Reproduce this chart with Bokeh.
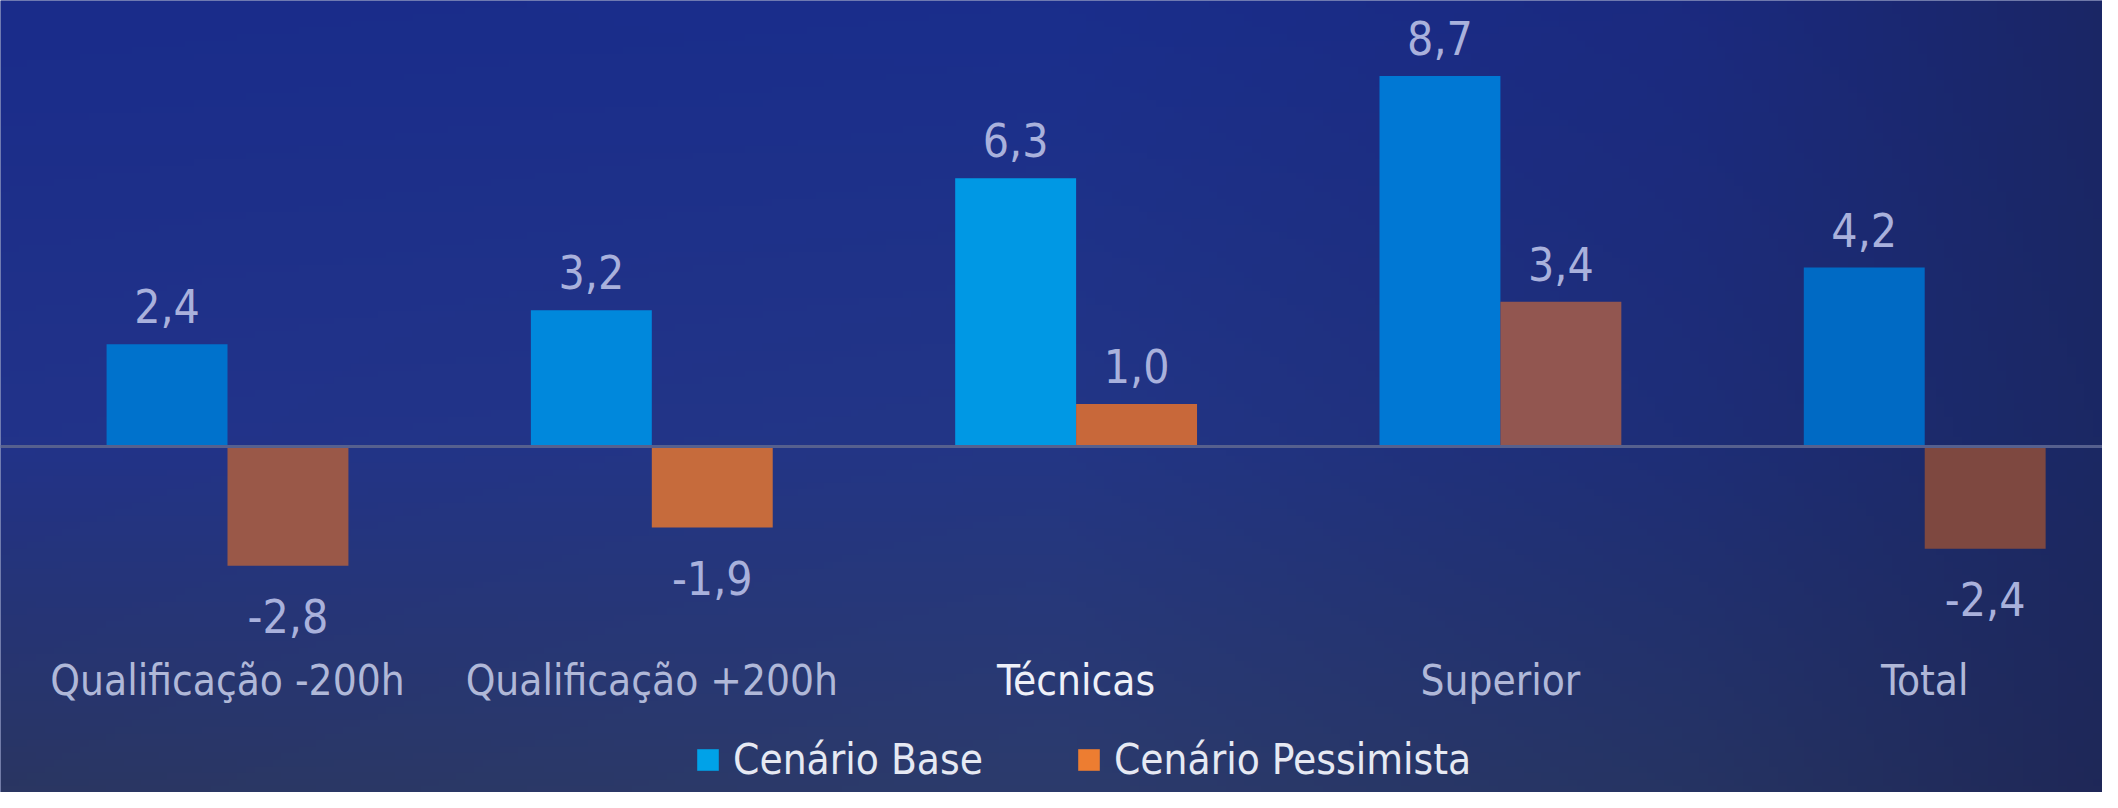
import numpy as np
from bokeh.plotting import figure
from bokeh.models import Range1d, FixedTicker, LinearAxis, Legend, LegendItem, ColumnDataSource
from bokeh.core.properties import value
from bokeh.embed import file_html
from bokeh.resources import INLINE

# ---------------- data ----------------
categories = ["Qualificação -200h", "Qualificação +200h", "Técnicas", "Superior", "Total"]
base = [2.4, 3.2, 6.3, 8.7, 4.2]
pessimista = [-2.8, -1.9, 1.0, 3.4, -2.4]
series_names = ["Cenário Base", "Cenário Pessimista"]

# ---------------- style ----------------
W, H = 2102, 792
FONT = "Liberation Sans Narrow, DejaVu Sans Condensed, sans-serif"
BG = "#1b2d80"
base_colors = ["#0072cc", "#0088dc", "#0098e4", "#0078d4", "#006ac4"]
pess_colors = ["#9a5848", "#c66b3c", "#c8683a", "#925650", "#7e4840"]
legend_colors = ["#00a2e8", "#ed7d31"]
LABEL_COLOR = "#a9b1dc"
CAT_COLOR = "#b0b8d8"
BAR_W = 0.285
X0, X1 = -0.535, 4.419
Y0, Y1 = -8.12, 10.47

def fmt(v):
    return f"{v:.1f}".replace(".", ",")

idx = list(range(len(categories)))

p = figure(width=W, height=H, x_range=Range1d(X0, X1), y_range=Range1d(Y0, Y1),
           output_backend="svg", toolbar_location=None, min_border=0,
           x_axis_type=None, y_axis_type=None)
p.outline_line_color = None
p.background_fill_color = BG
p.border_fill_color = BG

# background gradient
def hex2rgb(h):
    return np.array([int(h[i:i + 2], 16) for i in (1, 3, 5)], dtype=float)

nx, ny = 240, 120
xs = np.linspace(0, 1, nx)
rows = {
    0.0: (["#2a3662", "#2c3b6c", "#263463", "#1f2858"], [0, 0.5, 0.8, 1]),   # bottom
    0.45: (["#22338a", "#233686", "#1e2e78", "#1b2864"], [0, 0.5, 0.8, 1]),
    1.0: (["#1a2c8a", "#1a2e8c", "#1b2a80", "#1a2666"], [0, 0.5, 0.8, 1]),   # top
}
row_vals = {}
for v, (cols, stops) in rows.items():
    c = np.array([hex2rgb(h) for h in cols])
    row_vals[v] = np.stack([np.interp(xs, stops, c[:, k]) for k in range(3)], axis=-1)
vs = np.linspace(0, 1, ny)
keys = sorted(row_vals)
img = np.zeros((ny, nx, 3))
for j, v in enumerate(vs):
    for a, b in zip(keys[:-1], keys[1:]):
        if a <= v <= b:
            t = (v - a) / (b - a)
            img[j] = row_vals[a] * (1 - t) + row_vals[b] * t
            break
rgba = np.zeros((ny, nx), dtype=np.uint32)
view = rgba.view(dtype=np.uint8).reshape((ny, nx, 4))
view[:, :, 0:3] = img.astype(np.uint8)
view[:, :, 3] = 255
p.image_rgba(image=[rgba], x=X0, y=Y0, dw=X1 - X0, dh=Y1 - Y0)

# bars
src_b = ColumnDataSource(dict(x=[i - BAR_W / 2 for i in idx], top=base, color=base_colors))
src_p = ColumnDataSource(dict(x=[i + BAR_W / 2 for i in idx], top=pessimista, color=pess_colors))
p.vbar(x="x", top="top", bottom=0, width=BAR_W, fill_color="color", line_color=None, source=src_b)
p.vbar(x="x", top="top", bottom=0, width=BAR_W, fill_color="color", line_color=None, source=src_p)

# legend proxies (hidden, same data, legend colours)
r1 = p.vbar(x="x", top="top", bottom=0, width=BAR_W, fill_color=legend_colors[0],
            line_color=None, source=src_b, visible=False)
r2 = p.vbar(x="x", top="top", bottom=0, width=BAR_W, fill_color=legend_colors[1],
            line_color=None, source=src_p, visible=False)

# value labels
pos_x, pos_y, pos_t, neg_x, neg_y, neg_t = [], [], [], [], [], []
for src in (src_b, src_p):
    for x, v in zip(src.data["x"], src.data["top"]):
        if v >= 0:
            pos_x.append(x); pos_y.append(v); pos_t.append(fmt(v))
        else:
            neg_x.append(x); neg_y.append(v); neg_t.append(fmt(v))
p.text(x=pos_x, y=pos_y, text=pos_t, text_align="center", text_baseline="alphabetic",
       y_offset=-38, text_font=value(FONT), text_font_size="46px", text_color=LABEL_COLOR)
p.text(x=neg_x, y=neg_y, text=neg_t, text_align="center", text_baseline="top",
       y_offset=33, text_font=value(FONT), text_font_size="46px", text_color=LABEL_COLOR)

# category axis (drawn at y=0, labels pushed down)
def cat_axis(ticks, color, line_color):
    ax = LinearAxis(fixed_location=0, ticker=FixedTicker(ticks=ticks),
                    major_label_overrides={i: categories[i] for i in ticks},
                    axis_line_color=line_color, axis_line_width=3,
                    major_tick_line_color=None, minor_tick_line_color=None,
                    major_label_standoff=203, major_label_text_font=FONT,
                    major_label_text_font_size="42px", major_label_text_color=color)
    p.add_layout(ax, "below")

cat_axis([0, 1, 3, 4], CAT_COLOR, "#56608e")
cat_axis([2], "#eef0f8", None)

# legend
legend = Legend(items=[LegendItem(label=series_names[0], renderers=[r1], index=0),
                       LegendItem(label=series_names[1], renderers=[r2], index=0)],
                location=(694, 8), orientation="horizontal",
                glyph_width=27, glyph_height=27, label_standoff=12, spacing=92,
                padding=0, margin=0, background_fill_alpha=0, border_line_color=None,
                label_text_font=FONT, label_text_font_size="42px", label_text_color="#e6e9f3")
p.add_layout(legend)

open("out.html", "w").write(file_html(p, INLINE))
